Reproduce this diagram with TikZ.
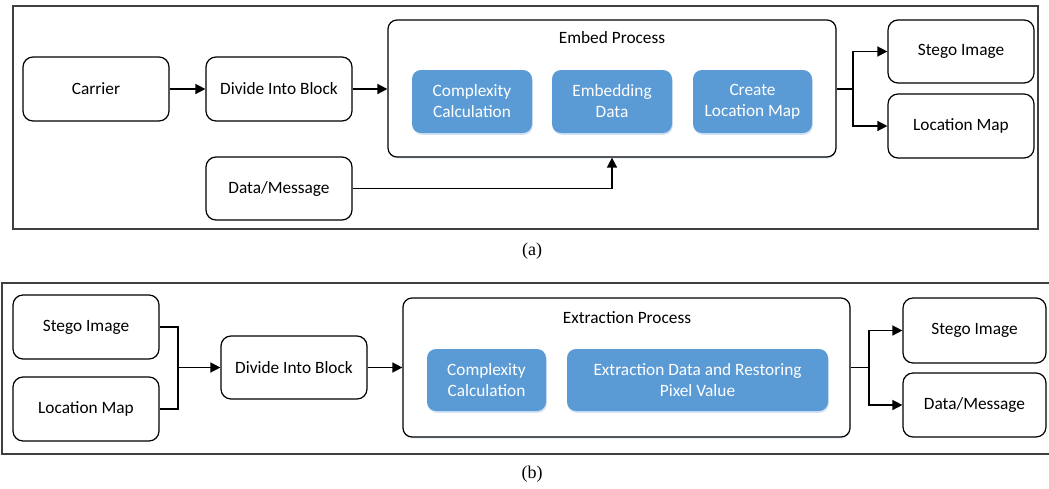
\documentclass[tikz,border=0pt]{standalone}
\usepackage{fontspec}
\setmainfont{Carlito}
\newfontfamily\capfont{Liberation Serif}
\usetikzlibrary{arrows.meta,shadows}
\definecolor{stepblue}{HTML}{5B9BD5}
\definecolor{framegray}{HTML}{3F3F3F}
\definecolor{glowblue}{HTML}{C9DDF0}
\begin{document}
\begin{tikzpicture}[x=1pt,y=-1pt,
  every node/.style={font=\fontsize{17.3}{21}\selectfont, align=center, inner sep=0pt},
  frame/.style={draw=framegray, line width=1.3pt},
  plainbox/.style={draw=black, line width=1.2pt, rounded corners=10pt, fill=white},
  processbox/.style={draw=black, line width=1.2pt, rounded corners=9pt, fill=white,
    drop shadow={shadow xshift=0.5pt, shadow yshift=-1.5pt, fill=glowblue, opacity=0.5}},
  bluebox/.style={fill=stepblue, rounded corners=9pt, text=white,
    drop shadow={shadow xshift=0.8pt, shadow yshift=-1.8pt, fill=glowblue, opacity=0.8}},
  flow/.style={line width=1.5pt, -{Triangle[length=10pt,width=10pt]}},
  link/.style={line width=1.5pt},
  caption/.style={font=\capfont\fontsize{18}{20}\selectfont}
]
\useasboundingbox (0,0) rectangle (1049,488);

% ---------- (a) embedding ----------
\draw[frame] (13,6) rectangle (1038,229);

\node[plainbox, minimum width=146pt, minimum height=64pt] (carrier) at (96,89) {Carrier};
\node[plainbox, minimum width=146pt, minimum height=64pt] (divA) at (279,89) {Divide Into Block};
\node[plainbox, minimum width=146pt, minimum height=63pt] (dataA) at (279,188.5) {Data/Message};

\node[processbox, minimum width=448pt, minimum height=137pt] (embed) at (612,88.5) {};
\node (embedTitle) at (612,37.5) {Embed Process};
\node[bluebox, minimum width=120pt, minimum height=63pt] (cplxA) at (472,101.5) {Complexity\\Calculation};
\node[bluebox, minimum width=120pt, minimum height=63pt] (embData) at (612,101.5) {Embedding\\Data};
\node[bluebox, minimum width=119pt, minimum height=63pt] (locMapMk) at (752.5,101.5) {Create\\Location Map};

\node[plainbox, minimum width=146pt, minimum height=63pt] (stegoA) at (961,51.5) {Stego Image};
\node[plainbox, minimum width=146pt, minimum height=64pt] (locA) at (961,126) {Location Map};

\draw[flow] (carrier) -- (divA);
\draw[flow] (divA) -- (divA -| embed.west);
\draw[flow] (dataA.east) -| (embed.south);
\coordinate (forkA) at (853,89);
\draw[link] (embed.east |- forkA) -- (forkA);
\draw[flow] (forkA) |- (stegoA.west);
\draw[flow] (forkA) |- (locA.west);

\node[caption] (capA) at (532,251) {(a)};

% ---------- (b) extraction ----------
\draw[frame] (2,283) rectangle (1051,454);

\node[plainbox, minimum width=146pt, minimum height=64pt] (stegoB) at (86,327) {Stego Image};
\node[plainbox, minimum width=146pt, minimum height=64pt] (locB) at (86,409) {Location Map};
\node[plainbox, minimum width=146pt, minimum height=63pt] (divB) at (294,367.5) {Divide Into Block};

\node[processbox, minimum width=447pt, minimum height=139pt] (extr) at (626.5,367.5) {};
\node (extrTitle) at (627,317.5) {Extraction Process};
\node[bluebox, minimum width=119pt, minimum height=62pt] (cplxB) at (486.5,380) {Complexity\\Calculation};
\node[bluebox, minimum width=261pt, minimum height=62pt] (restore) at (697.5,380) {Extraction Data and Restoring\\Pixel Value};

\node[plainbox, minimum width=143pt, minimum height=65pt] (stegoC) at (974.5,330.5) {Stego Image};
\node[plainbox, minimum width=143pt, minimum height=64pt] (dataC) at (974.5,405) {Data/Message};

\coordinate (mergeB) at (178,367.5);
\draw[link] (stegoB.east) -| (mergeB);
\draw[link] (locB.east) -| (mergeB);
\draw[flow] (mergeB) -- (divB.west);
\draw[flow] (divB.east) -- (divB.east -| extr.west);
\coordinate (forkB) at (869,367.5);
\draw[link] (extr.east |- forkB) -- (forkB);
\draw[flow] (forkB) |- (stegoC.west);
\draw[flow] (forkB) |- (dataC.west);

\node[caption] (capB) at (532,474) {(b)};
\end{tikzpicture}
\end{document}
